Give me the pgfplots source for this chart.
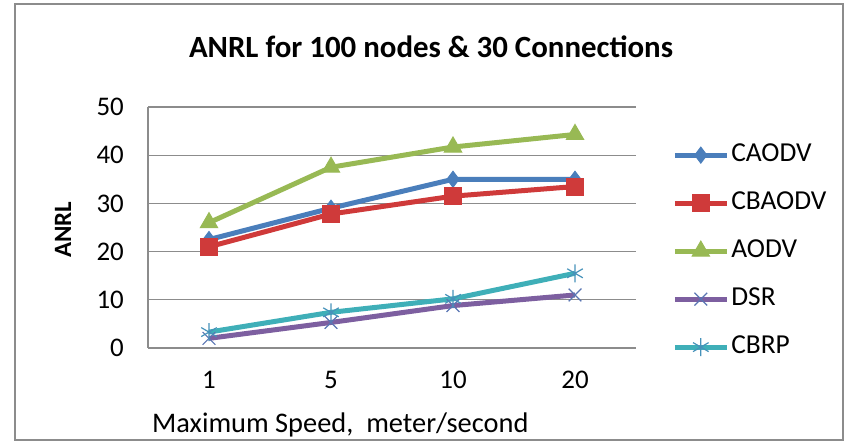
\documentclass[border=0pt]{standalone}
\usepackage{fontspec}
\setmainfont{Carlito}
\usepackage{pgfplots}
\pgfplotsset{compat=1.18}
\definecolor{cblue}{HTML}{4A7EBB}
\definecolor{cred}{HTML}{CF3A3A}
\definecolor{cgreen}{HTML}{98B954}
\definecolor{cpurple}{HTML}{7D5FA0}
\definecolor{ccyan}{HTML}{3FAFB8}
\definecolor{gridgray}{HTML}{8C8C8C}
\begin{document}
\begin{tikzpicture}[x=1bp,y=1bp]
\path[use as bounding box] (0,0) rectangle (845,443);
\draw[gridgray, line width=2bp] (15,3) rectangle (843,439);
\begin{axis}[
  at={(148bp,95bp)}, anchor=south west,
  width=488bp, height=241bp, scale only axis,
  xmin=-0.5, xmax=3.5, ymin=0, ymax=50,
  xtick={0,1,2,3}, xticklabels={1,5,10,20},
  ytick={0,10,20,30,40,50},
  axis x line*=bottom, axis y line*=left,
  ymajorgrids,
  major grid style={gridgray, line width=1.3bp},
  axis line style={gridgray, line width=1.3bp, -},
  tick style={draw=none},
  /pgf/number format/assume math mode=true,
  tick label style={font=\fontsize{27}{30}\selectfont, inner sep=0pt},
  xticklabel style={anchor=north, yshift=-23bp},
  yticklabel style={anchor=east, xshift=-24bp},
  title={ANRL for 100 nodes \& 30 Connections},
  title style={font=\bfseries\fontsize{31}{36}\selectfont, at={(axis description cs:0.58,1.224)}, anchor=center},
  xlabel={Maximum Speed,\ \ meter/second},
  xlabel style={font=\fontsize{28.5}{32}\selectfont, at={(axis description cs:0.008,-0.32)}, anchor=west, inner sep=0pt},
  ylabel={ANRL},
  ylabel style={font=\bfseries\fontsize{25}{30}\selectfont, at={(axis description cs:-0.174,0.49)}, anchor=center, rotate=0},
  legend style={at={(axis description cs:1.074,0.851)}, anchor=north west, draw=none, fill=none, inner sep=0pt,
    row sep=24bp, column sep=2bp,
    nodes={inner sep=0pt, text height=18bp, text depth=6bp, anchor=west},
    font=\fontsize{27.5}{30}\selectfont},
  legend cell align=left,
  legend image code/.code={\draw[mark repeat=2, mark phase=2] plot coordinates {(0bp,0bp) (26bp,0bp) (52bp,0bp)};},
  every axis plot/.append style={line width=5bp},
]
\addplot[cblue, mark=diamond*, mark size=8bp, mark options={solid, line width=1bp}] coordinates {(0,22.5) (1,29) (2,35) (3,35)};
\addlegendentry{CAODV}
\addplot[cred, mark=square*, mark size=8.5bp, mark options={solid, line width=1bp}] coordinates {(0,21) (1,27.8) (2,31.5) (3,33.5)};
\addlegendentry{CBAODV}
\addplot[cgreen, mark=triangle*, mark size=10bp, mark options={solid, line width=1bp}] coordinates {(0,26) (1,37.5) (2,41.7) (3,44.3)};
\addlegendentry{AODV}
\addplot[cpurple, mark=x, mark size=9bp, mark options={solid, line width=1.2bp, draw=cblue!70!cpurple}] coordinates {(0,2) (1,5.3) (2,8.8) (3,11)};
\addlegendentry{DSR}
\addplot[ccyan, mark=asterisk, mark size=9bp, mark options={solid, line width=1.2bp, draw=cblue!60!ccyan}] coordinates {(0,3.3) (1,7.4) (2,10.2) (3,15.5)};
\addlegendentry{CBRP}
\end{axis}
\end{tikzpicture}
\end{document}
